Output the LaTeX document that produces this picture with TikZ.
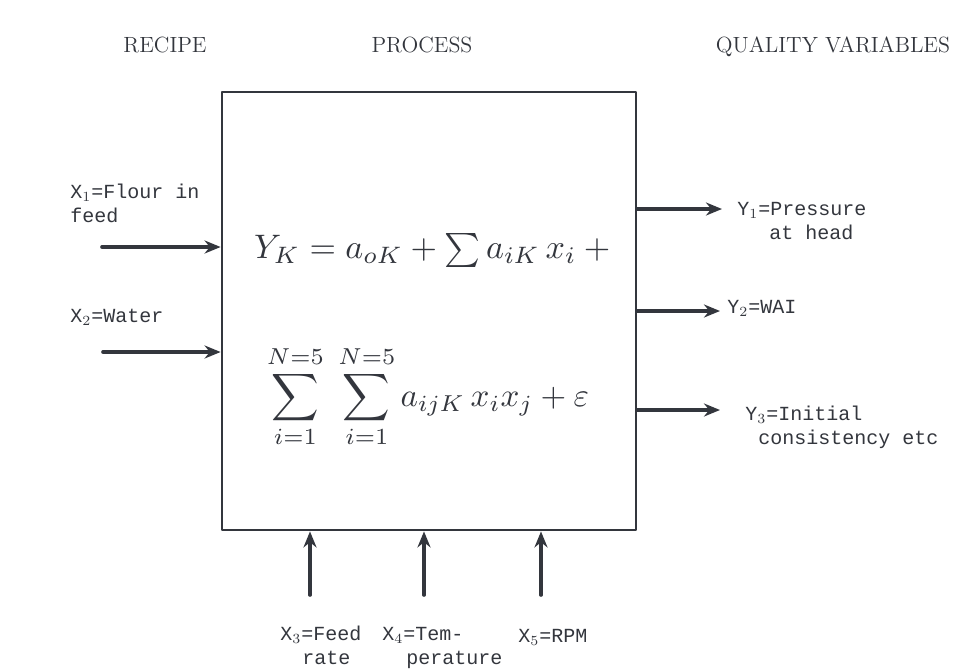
\documentclass[tikz,border=0pt]{standalone}
\usepackage{amsmath}
\usepackage{fontspec}
\newfontfamily\lblfont{Liberation Mono}
\usetikzlibrary{arrows.meta}
\definecolor{ink}{HTML}{33363D}
\tikzset{
  head/.style={font=\fontsize{11}{13}\selectfont, inner sep=0pt, anchor=base},
  lbl/.style={font=\lblfont\fontsize{10}{12}\selectfont, align=left, inner sep=0pt, anchor=base west},
  flow/.style={->, line width=1.8pt},
}
\begin{document}
\begin{tikzpicture}[x=0.5pt,y=-0.5pt,line join=round,line cap=round,>={Stealth[length=8pt,width=6.5pt]},color=ink]
  \useasboundingbox (0,0) rectangle (953,670);
  % headings
  \node[head] (recipe) at (165,52) {RECIPE};
  \node[head] (process) at (422,52) {PROCESS};
  \node[head] (quality) at (833,52) {QUALITY VARIABLES};
  % process box and model
  \node[draw,line width=1.4pt,minimum width=207pt,minimum height=219pt,inner sep=0pt] (proc) at (429,311) {};
  \node[scale=1.7] (eqA) at (436,250) {$Y_K = a_{oK} + \sum a_{iK}\, x_i + {}$};
  \node[scale=1.65] (eqB) at (428,397) {$\displaystyle\sum_{i=1}^{N=5}\;\sum_{i=1}^{N=5} a_{ijK}\, x_i x_j + \varepsilon$};
  % recipe inputs
  \coordinate (X1) at (102,247);
  \draw[flow] (X1) -- (X1 -| proc.west);
  \node[lbl] (X1lbl) at (70,222) {X$_1$=Flour in\\feed};
  \coordinate (X2) at (103,352);
  \draw[flow] (X2) -- (X2 -| proc.west);
  \node[lbl] (X2lbl) at (70,322) {X$_2$=Water};
  % operating inputs
  \coordinate (X3) at (310,595);
  \draw[flow] (X3) -- (X3 |- proc.south);
  \node[lbl] (X3lbl) at (280,664) {X$_3$=Feed\\\hspace*{11pt}rate};
  \coordinate (X4) at (424,595);
  \draw[flow] (X4) -- (X4 |- proc.south);
  \node[lbl] (X4lbl) at (382,664) {X$_4$=Tem-\\\hspace*{12pt}perature};
  \coordinate (X5) at (541,595);
  \draw[flow] (X5) -- (X5 |- proc.south);
  \node[lbl] (X5lbl) at (518,642) {X$_5$=RPM};
  % quality outputs
  \coordinate (Y1) at (722,209);
  \draw[flow] (Y1 -| proc.east) -- (Y1);
  \node[lbl] (Y1lbl) at (737,239) {Y$_1$=Pressure\\\hspace*{16pt}at head};
  \coordinate (Y2) at (720,311);
  \draw[flow] (Y2 -| proc.east) -- (Y2);
  \node[lbl] (Y2lbl) at (727,313) {Y$_2$=WAI};
  \coordinate (Y3) at (720,410);
  \draw[flow] (Y3 -| proc.east) -- (Y3);
  \node[lbl] (Y3lbl) at (745,444) {Y$_3$=Initial\\\hspace*{6.5pt}consistency etc};
\end{tikzpicture}
\end{document}
